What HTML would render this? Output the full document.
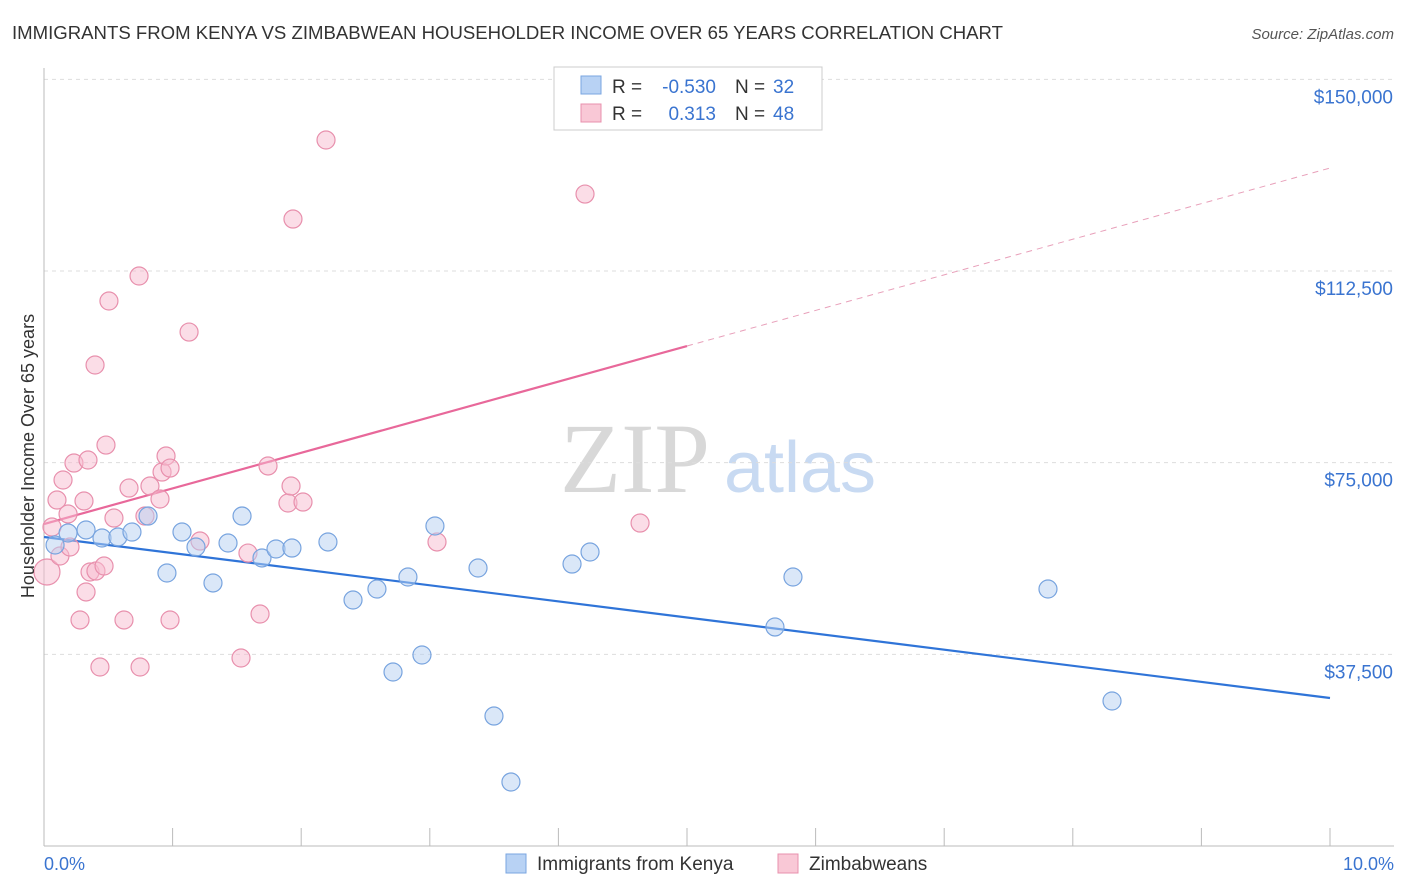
<!DOCTYPE html>
<html><head><meta charset="utf-8"><style>
body{margin:0;background:#fff;font-family:"Liberation Sans",sans-serif;}
#c{position:relative;width:1406px;height:892px;overflow:hidden;}
</style></head><body>
<div id="c">
<svg id="s" width="1406" height="892" xmlns="http://www.w3.org/2000/svg">
<text x="12" y="39" font-size="18" fill="#333" textLength="991" lengthAdjust="spacingAndGlyphs">IMMIGRANTS FROM KENYA VS ZIMBABWEAN HOUSEHOLDER INCOME OVER 65 YEARS CORRELATION CHART</text>
<text x="1394" y="39" font-size="15" fill="#555" font-style="italic" text-anchor="end">Source: ZipAtlas.com</text>
<text x="635" y="492" font-size="100" fill="#d8d8d8" font-family="Liberation Serif,serif" text-anchor="middle">ZIP</text>
<text x="800" y="492" font-size="72" fill="#c8daf2" text-anchor="middle">atlas</text>
<g id="grid"></g><g id="axes"></g><g id="lines"></g><g id="pts"></g>
<text transform="translate(34,456) rotate(-90)" font-size="18" fill="#333" text-anchor="middle">Householder Income Over 65 years</text>
<text x="44" y="870" font-size="18" fill="#3a74d0">0.0%</text>
<text x="1394" y="870" font-size="18" fill="#3a74d0" text-anchor="end">10.0%</text>
<g font-size="19">
<rect x="554" y="67" width="268" height="63" fill="#fff" stroke="#ccc"/>
<rect x="581" y="76" width="20" height="18" fill="#b8d2f4" stroke="#7aa6e0"/>
<rect x="581" y="104" width="20" height="18" fill="#f9c8d6" stroke="#e890ad"/>
<text x="612" y="93" fill="#333">R =</text>
<text x="716" y="93" fill="#3a74d0" text-anchor="end">-0.530</text>
<text x="735" y="93" fill="#333">N =</text>
<text x="773" y="93" fill="#3a74d0">32</text>
<text x="612" y="120" fill="#333">R =</text>
<text x="716" y="120" fill="#3a74d0" text-anchor="end">0.313</text>
<text x="735" y="120" fill="#333">N =</text>
<text x="773" y="120" fill="#3a74d0">48</text>
</g>
<g>
<rect x="506" y="854" width="20" height="19" fill="#b8d2f4" stroke="#7aa6e0"/>
<text x="537" y="870" font-size="19" fill="#333">Immigrants from Kenya</text>
<rect x="778" y="854" width="20" height="19" fill="#f9c8d6" stroke="#e890ad"/>
<text x="809" y="870" font-size="19" fill="#333">Zimbabweans</text>
</g>
</svg></div>
<script>
const yTicks=[37500,75000,112500,150000];
const yTickLabels=["$37,500","$75,000","$112,500","$150,000"];
const kenyaX=[0.086,0.187,0.327,0.451,0.575,0.684,0.809,0.956,1.073,1.182,1.314,1.431,1.540,1.695,1.804,1.928,2.208,2.403,2.589,2.714,2.830,2.939,3.040,3.375,3.499,3.631,4.106,4.246,5.684,5.824,7.807,8.305];
const kenyaY=[58890,61240,61830,60260,60460,61430,64560,53410,61430,58500,51460,59280,64560,56350,58110,58300,59480,48130,50280,34040,52630,37370,62610,54390,25430,12520,55170,57520,42850,52630,50280,28370];
const zimX=[0.023,0.062,0.101,0.124,0.148,0.187,0.202,0.233,0.311,0.327,0.342,0.280,0.358,0.397,0.404,0.435,0.467,0.482,0.505,0.544,0.622,0.661,0.739,0.747,0.824,0.902,0.918,0.949,0.980,0.980,1.128,1.213,1.532,1.586,1.680,1.742,1.897,1.921,1.936,2.014,2.193,3.056,4.207,4.635,0.785];
const zimY=[53610,62410,67690,56740,71610,64960,58500,74930,67500,49700,75520,44220,53610,94110,53800,35020,54780,78450,106630,64170,44220,70040,111520,35020,70430,67890,73170,76300,73950,44220,100560,59670,36780,57320,45390,74350,67110,70430,122670,67300,138130,59480,127560,63190,64560];
const kenyaTrend=[60460,28960];
const zimTrend=[63000,132650];
const NS="http://www.w3.org/2000/svg";
const X=v=>44+v*128.6, Y=v=>846-v/1000*5.111;
function mk(p,t,a){const e=document.createElementNS(NS,t);for(const k in a)e.setAttribute(k,a[k]);document.getElementById(p).appendChild(e);return e;}
yTicks.forEach((t,i)=>{
 const g=mk('grid','line',{x1:44,x2:1394,y1:Y(t),y2:Y(t),stroke:'#ddd','stroke-dasharray':'4,4'});
 
 
 const l=mk('grid','text',{x:1393,y:Y(t)+24,'font-size':19,fill:'#3a74d0','text-anchor':'end'});
 l.textContent=yTickLabels[i];
 
 
});
const ax=mk('axes','line',{x1:44,x2:44,y1:68,y2:846,stroke:'#bbb'});


const bx=mk('axes','line',{x1:44,x2:1394,y1:846,y2:846,stroke:'#bbb'});


for(let i=1;i<=10;i++){const t=mk('axes','line',{x1:X(i),x2:X(i),y1:828,y2:846,stroke:'#bbb'});
 
 }
function pt(x,y,fill,stroke,name,r){const c=mk('pts','circle',{cx:X(x),cy:Y(y),r:r||9,fill:fill,'fill-opacity':0.5,stroke:stroke,'stroke-width':1.2});
 
 }
zimX.forEach((x,i)=>pt(x,zimY[i],'#f7bcd0','#e890ad','zimbabwe-point',i==0?13:9));
kenyaX.forEach((x,i)=>pt(x,kenyaY[i],'#b5d0f2','#78a4df','kenya-point'));
const kl=mk('lines','line',{x1:X(0),y1:Y(kenyaTrend[0]),x2:X(10),y2:Y(kenyaTrend[1]),stroke:'#2f74d8','stroke-width':2.2});


const zm=zimTrend[0]+(zimTrend[1]-zimTrend[0])*0.5;
const zl=mk('lines','line',{x1:X(0),y1:Y(zimTrend[0]),x2:X(5),y2:Y(zm),stroke:'#e8689a','stroke-width':2.2});


const zd=mk('lines','line',{x1:X(5),y1:Y(zm),x2:X(10),y2:Y(zimTrend[1]),stroke:'#e8a0ba','stroke-width':1,'stroke-dasharray':'6,5'});


</script>
</body></html>
